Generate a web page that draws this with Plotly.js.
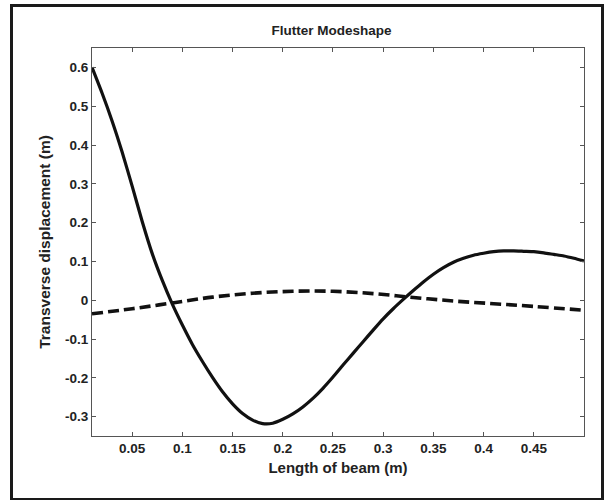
<!DOCTYPE html>
<html>
<head>
<meta charset="utf-8">
<script src="https://cdn.plot.ly/plotly-3.0.1.min.js"></script>
<style>
  html, body { margin: 0; padding: 0; background: #fff; }
  #wrap { position: relative; width: 605px; height: 500px; }
  #chart { width: 605px; height: 500px; }
  #frame { position: absolute; left: 10px; top: 4px; width: 588px; height: 491px;
           border: 3px solid #1a1a1a; pointer-events: none; }
</style>
</head>
<body>
<div id="wrap">
  <div id="chart"></div>
  <div id="frame"></div>
</div>
<script>
// Beam position (m)
const beamX = [0.01, 0.02, 0.03, 0.04, 0.05, 0.06, 0.07, 0.08, 0.09, 0.10,
               0.11, 0.12, 0.13, 0.14, 0.15, 0.16, 0.17, 0.18, 0.19, 0.20,
               0.21, 0.22, 0.23, 0.24, 0.25, 0.26, 0.27, 0.28, 0.29, 0.30,
               0.31, 0.32, 0.33, 0.34, 0.35, 0.36, 0.37, 0.38, 0.39, 0.40,
               0.41, 0.42, 0.43, 0.44, 0.45, 0.46, 0.47, 0.48, 0.49, 0.50];
// Solid modeshape (transverse displacement, m)
const solidY = [0.600, 0.534, 0.462, 0.382, 0.294, 0.203, 0.120, 0.051, -0.010, -0.064,
                -0.114, -0.158, -0.199, -0.236, -0.267, -0.292, -0.309, -0.318, -0.317, -0.307,
                -0.293, -0.275, -0.253, -0.227, -0.198, -0.167, -0.137, -0.107, -0.077, -0.048,
                -0.022, 0.002, 0.025, 0.047, 0.067, 0.084, 0.098, 0.108, 0.116, 0.121,
                0.125, 0.127, 0.127, 0.126, 0.125, 0.122, 0.118, 0.114, 0.108, 0.101];
// Dashed modeshape
const dashX = [0.01, 0.05, 0.09, 0.13, 0.17, 0.21, 0.25, 0.29, 0.33, 0.37, 0.41, 0.45, 0.50];
const dashY = [-0.035, -0.022, -0.007, 0.008, 0.018, 0.023, 0.023, 0.017, 0.007, -0.002, -0.009, -0.016, -0.026];

const xTicks = [0.05, 0.1, 0.15, 0.2, 0.25, 0.3, 0.35, 0.4, 0.45];
const xTickText = ['0.05', '0.1', '0.15', '0.2', '0.25', '0.3', '0.35', '0.4', '0.45'];
const yTicks = [-0.3, -0.2, -0.1, 0, 0.1, 0.2, 0.3, 0.4, 0.5, 0.6];
const yTickText = ['-0.3', '-0.2', '-0.1', '0', '0.1', '0.2', '0.3', '0.4', '0.5', '0.6'];

const fontFam = 'Liberation Sans, Arial, sans-serif';

const traces = [
  { x: beamX, y: solidY, type: 'scatter', mode: 'lines', line: { color: '#111', width: 3.2, shape: 'spline', smoothing: 0.6 }, hoverinfo: 'skip' },
  { x: dashX, y: dashY, type: 'scatter', mode: 'lines', line: { color: '#111', width: 3.6, dash: '11px,5px', shape: 'spline', smoothing: 1 }, hoverinfo: 'skip' }
];

const axisCommon = {
  showgrid: false, zeroline: false, showline: true, linecolor: '#555', linewidth: 1,
  mirror: 'ticks', ticks: 'inside', ticklen: 4, tickcolor: '#555', tickwidth: 1,
  tickfont: { family: fontFam, size: 13.5, color: '#222', weight: 'bold' },
  tickmode: 'array'
};

const layout = {
  width: 605, height: 500,
  margin: { l: 92, r: 21, t: 48, b: 64 },
  paper_bgcolor: '#fff', plot_bgcolor: '#fff',
  showlegend: false,
  title: { text: 'Flutter Modeshape', font: { family: fontFam, size: 13.5, color: '#222', weight: 'bold' },
           x: 0.548, xanchor: 'center', y: 0.94, yanchor: 'middle' },
  xaxis: Object.assign({}, axisCommon, {
    range: [0.01, 0.5], tickvals: xTicks, ticktext: xTickText,
    title: { text: 'Length of beam (m)', font: { family: fontFam, size: 15, color: '#222', weight: 'bold' }, standoff: 7 }
  }),
  yaxis: Object.assign({}, axisCommon, {
    range: [-0.35, 0.65], tickvals: yTicks, ticktext: yTickText,
    title: { text: 'Transverse displacement (m)', font: { family: fontFam, size: 15.5, color: '#222', weight: 'bold' }, standoff: 10 }
  })
};

Plotly.newPlot('chart', traces, layout, { displayModeBar: false, staticPlot: true });
</script>
</body>
</html>
